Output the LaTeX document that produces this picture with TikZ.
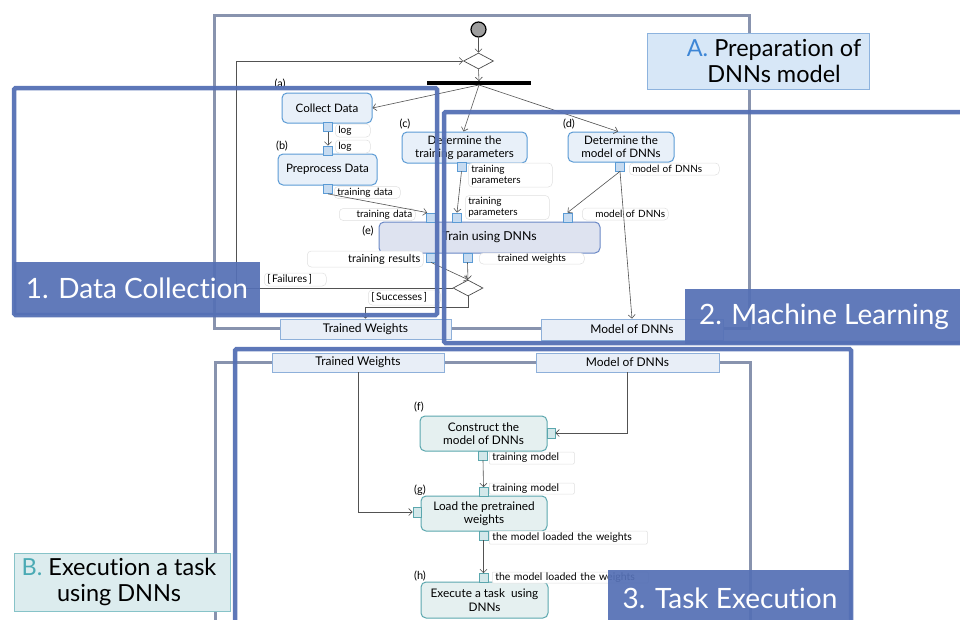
\documentclass[tikz,border=0pt]{standalone}
\usepackage{fontspec}
\setmainfont{Lato}[Ligatures=NoCommon]
\usetikzlibrary{arrows.meta,shapes.geometric}

\definecolor{frameblue}{HTML}{5570B5}
\definecolor{framegray}{HTML}{8893AE}
\definecolor{actline}{HTML}{5B9BD5}
\definecolor{actfill}{HTML}{E8F0F9}
\definecolor{pinfill}{HTML}{C6DBF1}
\definecolor{trainfill}{HTML}{DEE3F0}
\definecolor{trainline}{HTML}{6A88C6}
\definecolor{objfill}{HTML}{E8EEF7}
\definecolor{objline}{HTML}{8EB0DA}
\definecolor{tealline}{HTML}{5BA7AE}
\definecolor{tealfill}{HTML}{E5F0F0}
\definecolor{tealpin}{HTML}{D3E8EA}
\definecolor{labAfill}{HTML}{D7E7F7}
\definecolor{labAline}{HTML}{8DB3DE}
\definecolor{labAtext}{HTML}{3D86D6}
\definecolor{labBfill}{HTML}{DCECEE}
\definecolor{labBline}{HTML}{87C3C8}
\definecolor{labBtext}{HTML}{4AAAB4}

\tikzset{
  grayframe/.style={draw=framegray, line width=3pt},
  blueframe/.style={draw=frameblue, line width=4.5pt, rounded corners=1.5pt, draw opacity=0.95},
  bluelab/.style={fill=frameblue, fill opacity=0.93, text opacity=1, text=white,
    font=\fontsize{28}{30}\selectfont, inner sep=0pt},
  act/.style={rounded corners=5pt, draw=actline, fill=actfill, line width=1pt,
    align=center, inner sep=0pt, font=\fontsize{11.6}{13}\selectfont},
  trainact/.style={act, draw=trainline, fill=trainfill, font=\fontsize{12.3}{14}\selectfont},
  tealact/.style={act, draw=tealline, fill=tealfill, font=\fontsize{11.8}{13.5}\selectfont},
  pin/.style={draw=actline, fill=pinfill, line width=0.8pt, minimum size=9pt, inner sep=0pt},
  tealpinbox/.style={pin, draw=tealline, fill=tealpin},
  plabel/.style={rounded corners=4pt, draw=black!12, fill=white, line width=0.5pt,
    font=\fontsize{10}{11}\selectfont, inner xsep=3pt, inner ysep=0.5pt, anchor=west},
  objbox/.style={draw=objline, fill=objfill, line width=0.8pt, inner sep=0pt,
    font=\fontsize{12}{13}\selectfont},
  tag/.style={font=\fontsize{11}{12}\selectfont, inner sep=0pt},
  flow/.style={draw=black!68, line width=0.6pt, -{Straight Barb[length=3.5pt,width=7pt]}},
  decision/.style={diamond, draw=black!70, fill=white, line width=0.7pt,
    minimum width=30pt, minimum height=16pt, inner sep=0pt},
  titlebox/.style={line width=1pt, inner sep=0pt},
  titletext/.style={align=center, inner sep=0pt, font=\fontsize{23.5}{25.5}\selectfont}
}

\begin{document}
\begin{tikzpicture}[x=1pt,y=-1pt]
\useasboundingbox (0,0) rectangle (960,619);
\fill[white] (0,0) rectangle (960,619);

% partitions A and B
\draw[grayframe] (214,15) rectangle (749,328);
\draw[grayframe] (215,362) rectangle (750,660);

% initial node, merge and fork
\node[circle, draw=black, line width=1.2pt, fill=black!38, minimum size=15pt, inner sep=0pt] (start) at (478.5,29.5) {};
\node[decision] (merge) at (478.5,61) {};
\node[fill=black, minimum width=104pt, minimum height=3.5pt, inner sep=0pt] (fork) at (479,83) {};

% activities of partition A
\node[act, minimum width=90pt, minimum height=30pt] (a) at (327,108) {Collect Data};
\node[act, minimum width=99pt, minimum height=31pt] (b) at (327.5,169.5) {Preprocess Data};
\node[act, minimum width=125pt, minimum height=31pt] (c) at (464.5,147.5) {Determine the\\training parameters};
\node[act, minimum width=106pt, minimum height=30pt] (d) at (621,147) {Determine the\\model of DNNs};
\node[trainact, minimum width=221pt, minimum height=31pt] (e) at (489.5,237.5) {Train using DNNs};

\node[tag] at (280,84) {(a)};
\node[tag] at (282,146) {(b)};
\node[tag] at (405,124) {(c)};
\node[tag] at (569,124) {(d)};
\node[tag] at (368,231) {(e)};

% pins
\node[pin] (paout) at (328,127) {};
\node[pin] (pbin) at (328,150.5) {};
\node[pin] (pbout) at (328,189) {};
\node[pin] (pcout) at (461.5,166.5) {};
\node[pin] (pdout) at (620,166.5) {};
\node[pin] (pein1) at (431,217.5) {};
\node[pin] (pein2) at (457,217.5) {};
\node[pin] (pein3) at (567.5,217.5) {};
\node[pin] (peout1) at (431,257.5) {};
\node[pin] (peout2) at (467.5,257.5) {};

% pin labels
\node[plabel, text width=29pt, minimum height=13pt] (l1) at (335,130.5) {log};
\node[plabel, text width=29pt, minimum height=13pt] (l2) at (335,146.5) {log};
\node[plabel, text width=60pt, minimum height=12pt] (l3) at (334,192.5) {training data};
\node[plabel, text width=70pt, minimum height=12pt, align=right] (l4) at (339,214.5) {training data};
\node[plabel, text width=78pt, minimum height=24pt, align=left] (l5) at (468,175) {training\\parameters};
\node[plabel, text width=78pt, minimum height=24pt, align=left] (l6) at (465,207.5) {training\\parameters};
\node[plabel, text width=84pt, minimum height=12pt] (l7) at (629,169) {model of DNNs};
\node[plabel, text width=80pt, minimum height=12pt, align=right] (l8) at (582,214) {model of DNNs};
\node[plabel, text width=110pt, minimum height=16pt, align=right, font=\fontsize{11}{12}\selectfont] (l9) at (307,259) {training results};
\node[plabel, text width=99pt, minimum height=11pt, align=center] (l10) at (479,258.5) {trained weights};

% decision after training
\node[decision] (dec) at (468,288) {};
\node[plabel, text width=56pt, minimum height=13pt, font=\fontsize{10.5}{11.5}\selectfont] (lfail) at (264,279.5) {[\,Failures\,]};
\node[plabel, text width=66pt, minimum height=15pt, font=\fontsize{10.5}{11.5}\selectfont] (lsucc) at (368,297.5) {[\,Successes\,]};

% object nodes between the partitions
\node[objbox, minimum width=171pt, minimum height=20pt] (twtop) at (365.5,329) {Trained Weights};
\node[objbox, minimum width=182pt, minimum height=21pt] (mdtop) at (632,329.5) {Model of DNNs};
\node[objbox, minimum width=172pt, minimum height=19pt] (twbot) at (358,362.5) {Trained Weights};
\node[objbox, minimum width=183pt, minimum height=19pt] (mdbot) at (627.5,362.5) {Model of DNNs};

% activities of partition B
\node[tealact, minimum width=127pt, minimum height=35pt] (f) at (483.5,433.5) {Construct the\\model of DNNs};
\node[tealact, minimum width=126pt, minimum height=35pt] (g) at (484,513.5) {Load the pretrained\\weights};
\node[tealact, minimum width=127pt, minimum height=36pt] (h) at (484.5,600) {Execute a task\ \ using\\DNNs};
\node[tag] at (419,407) {(f)};
\node[tag] at (420,490) {(g)};
\node[tag] at (420,576) {(h)};

\node[tealpinbox, minimum width=8pt, minimum height=10pt] (pfin) at (551,433) {};
\node[tealpinbox] (pfout) at (483,455.5) {};
\node[tealpinbox] (pgin) at (483.5,492) {};
\node[tealpinbox, minimum width=8pt, minimum height=10pt] (pgleft) at (417,512) {};
\node[tealpinbox] (pgout) at (483.5,535.5) {};
\node[tealpinbox] (phin) at (483.5,578) {};

\node[plabel, text width=79pt, minimum height=12pt, rounded corners=1pt, font=\fontsize{10.5}{11.5}\selectfont] (l11) at (489,458) {training model};
\node[plabel, text width=79pt, minimum height=11pt, rounded corners=1pt, font=\fontsize{10.5}{11.5}\selectfont] (l12) at (489,488.5) {training model};
\node[plabel, text width=152pt, minimum height=13pt, rounded corners=1pt, font=\fontsize{10.5}{11.5}\selectfont] (l13) at (489,537.5) {the model loaded the weights};
\node[plabel, text width=150pt, minimum height=11pt, rounded corners=1pt, font=\fontsize{10.5}{11.5}\selectfont] (l14) at (492,577.5) {the model loaded the weights};

% control and object flows
\coordinate (loop) at (236,61);
\draw[flow] (start) -- (merge.north);
\draw[flow] (merge.south) -- (fork.north);
\draw[flow] (fork.south) -- (a.east);
\draw[flow] (fork.south) -- ([xshift=-1pt]c.north);
\draw[flow] (fork.south) -- ([xshift=-3pt]d.north);
\draw[flow] (paout.south) -- (pbin.north);
\draw[flow] (pbout.south) -- ([xshift=1pt]pein1.north west);
\draw[flow] (pcout.south) -- (pein2.north);
\draw[flow] (pdout.south) -- (pein3.north);
\draw[flow] (pdout.south) -- (mdtop.north);
\draw[flow] (peout1.south) -- (dec.north);
\draw[flow] (peout2.south) -- (dec.north);
\draw[flow] (dec.west) -| (loop) -- (merge.west);
\draw[flow] (dec.south) -- ++(0,11) -| (twtop.north);
\draw[flow] (mdbot.south) |- (pfin.east);
\draw[flow] (twbot.south) |- (pgleft.west);
\draw[flow] (pfout.south) -- (pgin.north);
\draw[flow] (pgout.south) -- (phin.north);

% swimlane frames drawn over the content
\draw[blueframe] (14,88) rectangle (437,315);
\draw[blueframe] (444,112) rectangle (990,343);
\draw[blueframe] (235,349) rectangle (851,660);

\node[bluelab, minimum width=246pt, minimum height=53pt] (lab1) at (137,288.5) {1. Data Collection};
\node[bluelab, minimum width=278pt, minimum height=55pt] (lab2) at (824,316.5) {2. Machine Learning};
\node[bluelab, minimum width=244pt, minimum height=56pt] (lab3) at (730,598) {3. Task Execution};

% partition titles
\node[titlebox, draw=labAline, fill=labAfill, minimum width=222pt, minimum height=56pt] (labA) at (758,61) {};
\node[titletext] (labAt) at (774,61) {\textcolor{labAtext}{A.} Preparation of\\DNNs model};
\node[titlebox, draw=labBline, fill=labBfill, minimum width=216pt, minimum height=58pt] (labB) at (122,582) {};
\node[titletext] (labBt) at (119,582) {\textcolor{labBtext}{B.} Execution a task\\using DNNs};
\end{tikzpicture}
\end{document}
